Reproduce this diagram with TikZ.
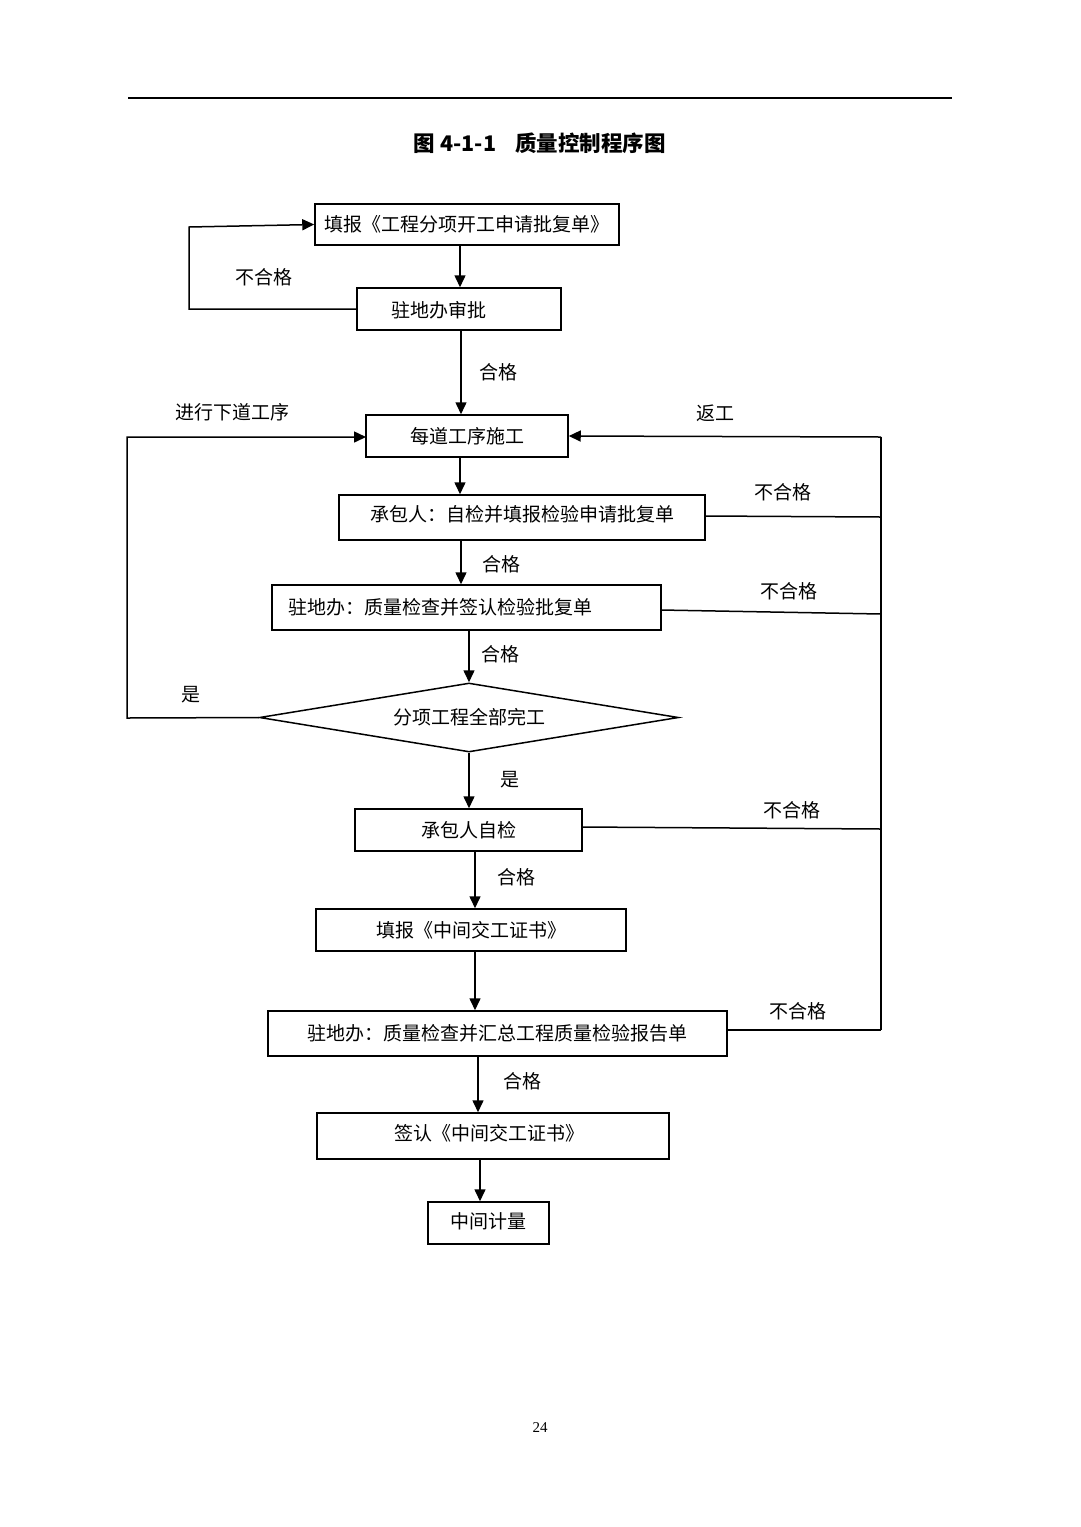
\documentclass[tikz,border=0pt]{standalone}
\usepackage{fontspec}
\setmainfont{Noto Sans CJK SC}
\newfontfamily\numfont{Liberation Serif}
\usetikzlibrary{arrows.meta,shapes.geometric}
\tikzset{
  box/.style={draw, line width=1.5pt, inner sep=0pt, font=\fontsize{19pt}{21pt}\selectfont},
  txt/.style={inner sep=0pt, font=\fontsize{19pt}{21pt}\selectfont},
  lbl/.style={inner sep=0pt, font=\fontsize{19pt}{21pt}\selectfont},
  conn/.style={line width=1.5pt},
  arr/.style={line width=1.5pt, -{Triangle[length=12pt,width=11pt]}},
}
\begin{document}
\begin{tikzpicture}[x=1pt,y=-1pt]
\useasboundingbox[fill=white] (0,0) rectangle (1080,1527);
% header rule
\coordinate (hl) at (128,98);
\coordinate (hr) at (952,98);
\draw[line width=1.6pt] (hl) -- (hr);
\node[inner sep=0pt, font=\fontsize{21.5pt}{23pt}\selectfont\bfseries] (title) at (540,143) {图 4-1-1\hspace{0.9em}质量控制程序图};

% boxes
\node[box, minimum width=304pt, minimum height=41pt] (b1) at (467,224.5) {填报《工程分项开工申请批复单》};
\node[box, minimum width=204pt, minimum height=42pt] (b2) at (459,309) {};
\node[txt] (t2) at (439,310) {驻地办审批};
\node[box, minimum width=202pt, minimum height=42pt] (b3) at (467,436) {每道工序施工};
\node[box, minimum width=366pt, minimum height=45pt] (b4) at (522,517.5) {};
\node[txt] (t4) at (522,514) {承包人：自检并填报检验申请批复单};
\node[box, minimum width=389pt, minimum height=45pt] (b5) at (466.5,607.5) {};
\node[txt] (t5) at (440,607) {驻地办：质量检查并签认检验批复单};
\node[draw, line width=1.5pt, diamond, aspect=6.07, minimum width=419pt, minimum height=69pt, inner sep=0pt, font=\fontsize{19pt}{21pt}\selectfont] (dia) at (469,717.5) {分项工程全部完工};
\node[box, minimum width=227pt, minimum height=42pt] (b6) at (468.5,830) {承包人自检};
\node[box, minimum width=310pt, minimum height=42pt] (b7) at (471,930) {填报《中间交工证书》};
\node[box, minimum width=459pt, minimum height=45pt] (b8) at (497.5,1033.5) {驻地办：质量检查并汇总工程质量检验报告单};
\node[box, minimum width=352pt, minimum height=46pt] (b9) at (493,1136) {};
\node[txt] (t9) at (489,1133) {签认《中间交工证书》};
\node[box, minimum width=121pt, minimum height=42pt] (b10) at (488.5,1223) {};
\node[txt] (t10) at (488,1221) {中间计量};

% main vertical arrows
\draw[arr] (460,0 |- b1.south) -- (460,0 |- b2.north);
\draw[arr] (461,0 |- b2.south) -- (461,0 |- b3.north);
\draw[arr] (460,0 |- b3.south) -- (460,0 |- b4.north);
\draw[arr] (461,0 |- b4.south) -- (461,0 |- b5.north);
\draw[arr] (dia.north |- b5.south) -- (dia.north);
\draw[arr] (dia.south) -- (dia.south |- b6.north);
\draw[arr] (475,0 |- b6.south) -- (475,0 |- b7.north);
\draw[arr] (475,0 |- b7.south) -- (475,0 |- b8.north);
\draw[arr] (478,0 |- b8.south) -- (478,0 |- b9.north);
\draw[arr] (480,0 |- b9.south) -- (480,0 |- b10.north);

% labels on main flow
\node[lbl] (l1) at (498,372) {合格};
\node[lbl] (l2) at (501,564) {合格};
\node[lbl] (l3) at (500,654) {合格};
\node[lbl] (l4) at (510,780) {是};
\node[lbl] (l5) at (516,877) {合格};
\node[lbl] (l6) at (522,1081) {合格};

% top-left loop
\coordinate (c1) at (189,309);
\coordinate (c2) at (189,227);
\draw[arr] (b2.west) -- (c1) -- (c2) -- (b1.west);
\node[lbl] (l7) at (264,277) {不合格};

% big left loop
\coordinate (c3) at (127,718);
\coordinate (c4) at (127,437);
\draw[arr] (dia.west) -- (c3) -- (c4) -- (366,437);
\node[lbl] (l8) at (232,412) {进行下道工序};
\node[lbl] (l9) at (191,695) {是};

% right return line
\coordinate (rt) at (881,437);
\coordinate (rb) at (881,1030);
\coordinate (r4) at (881,517);
\coordinate (r5) at (881,614);
\coordinate (r6) at (881,829);
\draw[conn] (rt) -- (rb);
\draw[arr] (rt) -- (b3.east);
\draw[conn] (705,516) -- (r4);
\draw[conn] (661,610) -- (r5);
\draw[conn] (582,827) -- (r6);
\draw[conn] (727,1030) -- (rb);
\node[lbl] (l10) at (715,413) {返工};
\node[lbl] (l11) at (783,492) {不合格};
\node[lbl] (l12) at (789,591) {不合格};
\node[lbl] (l13) at (792,810) {不合格};
\node[lbl] (l14) at (798,1011) {不合格};

% page number
\node[inner sep=0pt, font=\numfont\fontsize{15pt}{17pt}\selectfont] (pg) at (540,1428) {24};
\end{tikzpicture}
\end{document}
